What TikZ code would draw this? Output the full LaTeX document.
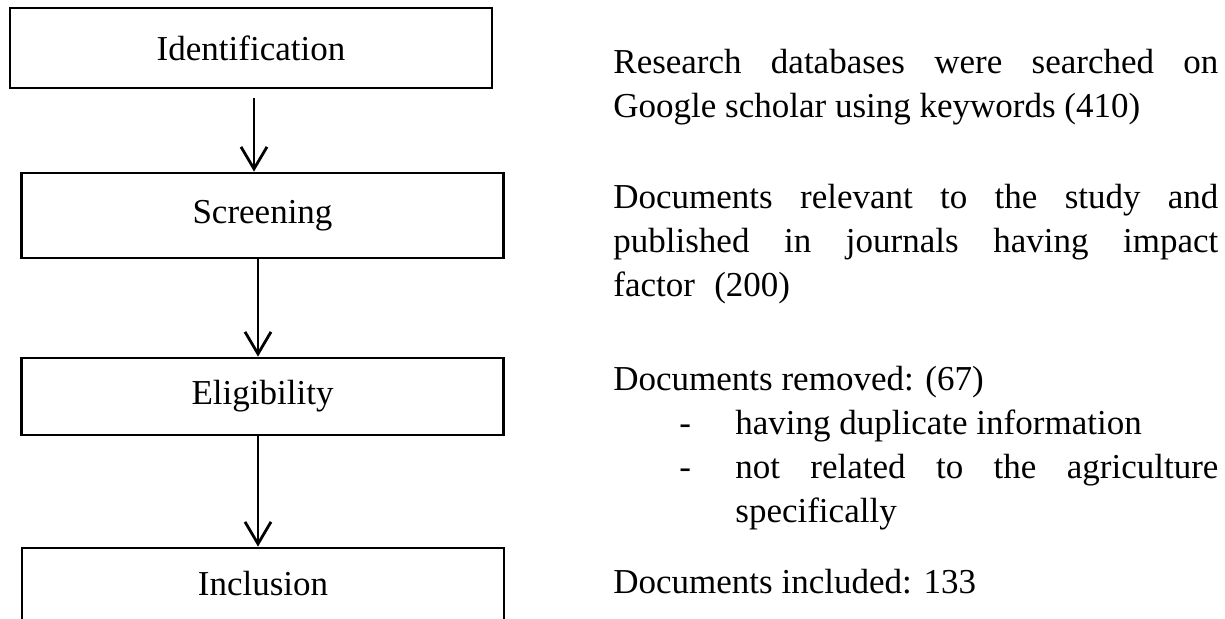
\documentclass[tikz,border=0pt]{standalone}
\usepackage{fontspec}
\setmainfont{Liberation Serif}
\usetikzlibrary{arrows.meta,calc}
\newcommand{\myfs}{\fontsize{17.5}{22}\selectfont}
\begin{document}
\begin{tikzpicture}[x=0.5pt,y=-0.5pt,
  box/.style={draw=black,line width=1.4pt,minimum width=241pt,inner sep=0pt,font=\myfs},
  arr/.style={line width=1.4pt,-{Straight Barb[length=11pt,width=13pt,line width=1.4pt]}},
  txt/.style={anchor=base west,inner sep=0pt,text width=302.5pt,align=justify,font=\myfs},
  plain/.style={anchor=base west,inner sep=0pt,font=\myfs}]
\useasboundingbox (0,0) rectangle (1225,618);
\clip (0,0) rectangle (1225,618);
\fill[white] (0,0) rectangle (1225,618);
% boxes
\node[box,minimum height=40pt] (ident) at (251,48) {Identification};
\node[box,minimum height=42.5pt] (screen) at (262.5,215.5) {Screening};
\node[box,minimum height=38.5pt] (elig) at (262.5,396.5) {Eligibility};
\node[box,minimum height=36pt] (incl) at (263,584) {Inclusion};
% arrows
\coordinate (a1s) at (254,98);
\coordinate (c2) at (258,0);
\draw[arr] (a1s) -- (a1s |- screen.north);
\draw[arr] (c2 |- screen.south) -- (c2 |- elig.north);
\draw[arr] (c2 |- elig.south) -- (c2 |- incl.north);
% texts
\node[txt] (t1) at (613,73) {Research databases were searched on\linebreak Google scholar using keywords (410)};
\node[txt] (t2) at (613,208) {Documents relevant to the study and\linebreak published in journals having impact\linebreak factor\hspace{0.3em} (200)};
\node[plain] (t3) at (613,390) {Documents removed: (67)};
\node[plain] (d1) at (679,434) {-};
\node[plain] (b1) at (735,434) {having duplicate information};
\node[plain] (d2) at (679,478) {-};
\node[txt,text width=241.5pt] (b2) at (735,478) {not related to the agriculture\linebreak specifically};
\node[plain] (t4) at (613,593) {Documents included: 133};
\end{tikzpicture}
\end{document}
